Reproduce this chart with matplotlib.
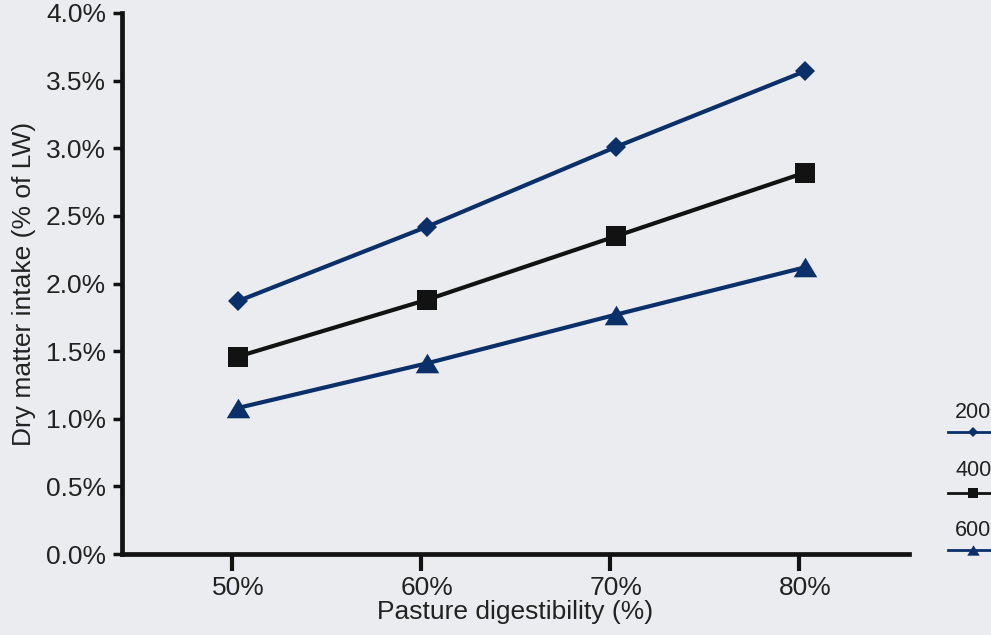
import matplotlib
matplotlib.use("Agg")
import matplotlib.pyplot as plt
from matplotlib.lines import Line2D
from matplotlib.transforms import ScaledTranslation

plt.rcParams['font.family'] = ['Liberation Sans', 'DejaVu Sans']

# ---- data ----
digestibility = [50, 60, 70, 80]
x_tick_labels = ["50%", "60%", "70%", "80%"]
y_ticks = [0.0, 0.5, 1.0, 1.5, 2.0, 2.5, 3.0, 3.5, 4.0]
y_tick_labels = ["0.0%", "0.5%", "1.0%", "1.5%", "2.0%", "2.5%", "3.0%", "3.5%", "4.0%"]
series_names = ["200", "400", "600"]
lw200 = [1.87, 2.42, 3.01, 3.57]
lw400 = [1.46, 1.88, 2.35, 2.82]
lw600 = [1.08, 1.41, 1.77, 2.12]

NAVY = "#0B3069"
BLACK = "#121212"
BG = "#EBECF0"
TXT = "#222222"
TRI = [(0, 0.83), (-1, -0.83), (1, -0.83)]

fig = plt.figure(figsize=(9.91, 6.35), dpi=100, facecolor=BG)
ax = fig.add_axes([122/991, 1 - 554/635, (909-122)/991, (554-13)/635])
ax.set_facecolor(BG)

styles = [
    dict(color=NAVY, marker="D", ms=10.5),
    dict(color=BLACK, marker="s", ms=14.5),
    dict(color=NAVY, marker=TRI, ms=17),
]
for vals, st in zip([lw200, lw400, lw600], styles):
    ax.plot(digestibility, vals, color=st["color"], lw=3, marker=st["marker"],
            ms=st["ms"], mfc=st["color"], mec=st["color"], mew=0, clip_on=False, zorder=3)

ax.set_xlim(43.86, 85.50)
ax.set_ylim(0.0, 4.0)
ax.set_xticks(digestibility)
ax.set_xticklabels(x_tick_labels)
ax.set_yticks(y_ticks)
ax.set_yticklabels(y_tick_labels)

for s in ["top", "right"]:
    ax.spines[s].set_visible(False)
for s in ["left", "bottom"]:
    ax.spines[s].set_linewidth(3.4)
    ax.spines[s].set_color(BLACK)
    ax.spines[s].set_capstyle("projecting")

ax.tick_params(axis="y", direction="out", length=6.5, width=2.5, color=BLACK,
               labelsize=19, pad=5, labelcolor=TXT)
ax.tick_params(axis="x", direction="out", length=12, width=3, color=BLACK,
               labelsize=19, pad=4, labelcolor=TXT)

# tick marks in the reference sit a few pixels left of the points/labels
shift = ScaledTranslation(-6/100, 0, fig.dpi_scale_trans)
for t in ax.xaxis.get_major_ticks():
    t.tick1line.set_transform(t.tick1line.get_transform() + shift)

ax.set_xlabel("Pasture digestibility (%)", fontsize=19, color=TXT, labelpad=0)
ax.set_ylabel("Dry matter intake (% of LW)", fontsize=19, color=TXT, labelpad=7)

# ---- legend (clipped at right edge like the reference) ----
leg_y_line = [432, 493, 550]
leg_y_text = [413, 471, 531]
leg_styles = [
    dict(color=NAVY, marker="D", ms=5.5),
    dict(color=BLACK, marker="s", ms=7),
    dict(color=NAVY, marker=TRI, ms=9),
]
for name, yl, yt, st in zip(series_names, leg_y_line, leg_y_text, leg_styles):
    fy = 1 - yl / 635
    fig.add_artist(Line2D([948/991, 1.0], [fy, fy], transform=fig.transFigure,
                          color=st["color"], lw=2))
    fig.add_artist(Line2D([973/991], [fy], transform=fig.transFigure,
                          color=st["color"], marker=st["marker"], ms=st["ms"],
                          mew=0, lw=0))
    fig.text(955/991, 1 - yt / 635, name, fontsize=15.5, color=TXT,
             ha="left", va="center")

fig.savefig("out.png", dpi=100, facecolor=BG)
